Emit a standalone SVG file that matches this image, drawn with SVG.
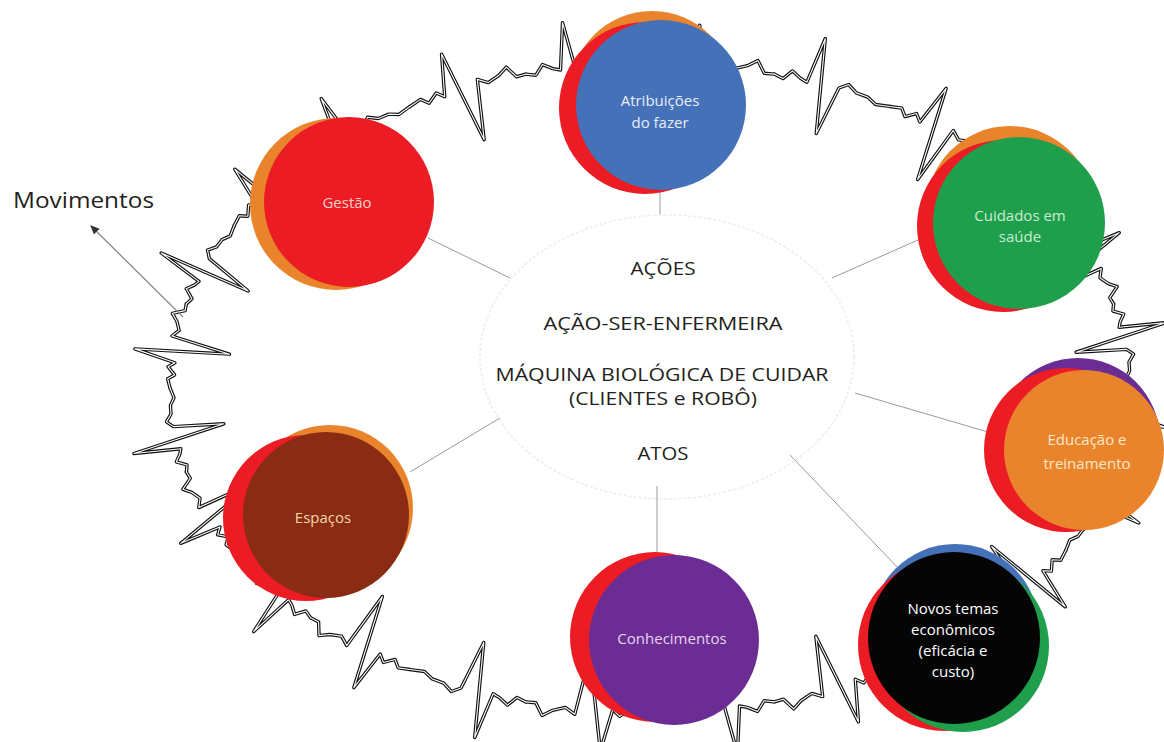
<svg xmlns="http://www.w3.org/2000/svg" xmlns:xlink="http://www.w3.org/1999/xlink" width="1164" height="742" viewBox="0 0 1164 742">
<style>
.lbl{font-family:"Open Sans","Liberation Sans",sans-serif;font-size:15px;text-anchor:middle}
.ctr{font-family:"Open Sans","Liberation Sans",sans-serif;font-size:19px;fill:#231f20;text-anchor:middle}
.con{stroke:#9a9a9a;stroke-width:1;fill:none}
.outer{stroke:#111;stroke-width:3.4;fill:none;stroke-linejoin:round;stroke-linecap:round}
.inner{stroke:#fff;stroke-width:1.1;fill:none;stroke-linejoin:round;stroke-linecap:round}
.red{fill:#ec1c24}.org{fill:#e9842c}.blu{fill:#4571b9}.grn{fill:#1f9f4b}.pur{fill:#6b2d93}.brn{fill:#8a2b14}.blk{fill:#050505}
</style>
<defs>
<path id="bA" vector-effect="non-scaling-stroke" d="M0,0 L10,-4 L16,2 L24,-6 L30,0 L37,-42 L52,52 L60,-8 L68,-2 L78,-6 L86,-12 L92,0 L100,0"/>
<path id="bB" vector-effect="non-scaling-stroke" d="M0,0 L8,2 L14,-8 L22,-3 L28,-1 L33,-48 L47,46 L55,-4 L62,-10 L70,-4 L80,-3 L88,2 L100,0"/>
<g id="trace">
<use xlink:href="#bA" transform="translate(1130,388) rotate(101) scale(0.857,1)"/>
<use xlink:href="#bB" transform="translate(1113.6,472.1) rotate(121.4) scale(0.919,1)"/>
<use xlink:href="#bA" transform="translate(1065.7,550.5) rotate(138.6) scale(1.017,1)"/>
<use xlink:href="#bB" transform="translate(989.4,617.8) rotate(152.5) scale(1.12,1)"/>
<use xlink:href="#bA" transform="translate(890,669.5) rotate(164.4) scale(1.202,1)"/>
<use xlink:href="#bB" transform="translate(774.2,701.9) rotate(174.9) scale(1.247,1)"/>
<use xlink:href="#bA" transform="translate(650,713) rotate(185.1) scale(1.247,1)"/>
<use xlink:href="#bB" transform="translate(525.8,701.9) rotate(195.6) scale(1.202,1)"/>
<use xlink:href="#bA" transform="translate(410,669.5) rotate(207.5) scale(1.12,1)"/>
<use xlink:href="#bB" transform="translate(310.6,617.8) rotate(221.4) scale(1.017,1)"/>
<use xlink:href="#bA" transform="translate(234.3,550.5) rotate(238.6) scale(0.919,1)"/>
<use xlink:href="#bB" transform="translate(186.4,472.1) rotate(259) scale(0.857,1)"/>
<use xlink:href="#bA" transform="translate(170,388) rotate(281) scale(0.857,1)"/>
<use xlink:href="#bB" transform="translate(186.4,303.9) rotate(301.4) scale(0.919,1)"/>
<use xlink:href="#bA" transform="translate(234.3,225.5) rotate(318.6) scale(1.017,1)"/>
<use xlink:href="#bB" transform="translate(310.6,158.2) rotate(332.5) scale(1.12,1)"/>
<use xlink:href="#bA" transform="translate(410,106.5) rotate(344.4) scale(1.202,1)"/>
<use xlink:href="#bB" transform="translate(525.8,74.1) rotate(354.9) scale(1.247,1)"/>
<use xlink:href="#bA" transform="translate(650,63) rotate(5.1) scale(1.247,1)"/>
<use xlink:href="#bB" transform="translate(774.2,74.1) rotate(15.6) scale(1.202,1)"/>
<use xlink:href="#bA" transform="translate(890,106.5) rotate(27.5) scale(1.12,1)"/>
<use xlink:href="#bB" transform="translate(989.4,158.2) rotate(41.4) scale(1.017,1)"/>
<use xlink:href="#bA" transform="translate(1065.7,225.5) rotate(58.6) scale(0.919,1)"/>
<use xlink:href="#bB" transform="translate(1113.6,303.9) rotate(79) scale(0.857,1)"/>
</g>
<marker id="arr" markerWidth="10" markerHeight="8" refX="8" refY="4" orient="auto" markerUnits="userSpaceOnUse">
<path d="M0,0 L9,4 L0,8 Z" fill="#333"/>
</marker>
</defs>
<rect width="1164" height="742" fill="#fff"/>
<g id="ecg">
<use xlink:href="#trace" class="outer"/>
<use xlink:href="#trace" class="inner"/>
</g>
<g id="center">
<ellipse cx="667" cy="357" rx="187" ry="142" fill="#fff" stroke="#ececec" stroke-width="1.5" stroke-dasharray="3,2"/>
<text class="ctr" x="663" y="275" textLength="65" lengthAdjust="spacingAndGlyphs">AÇÕES</text>
<text class="ctr" x="663" y="330" textLength="239" lengthAdjust="spacingAndGlyphs">AÇÃO-SER-ENFERMEIRA</text>
<text class="ctr" x="662" y="381" textLength="333" lengthAdjust="spacingAndGlyphs">MÁQUINA BIOLÓGICA DE CUIDAR</text>
<text class="ctr" x="663" y="405" textLength="188" lengthAdjust="spacingAndGlyphs">(CLIENTES e ROBÔ)</text>
<text class="ctr" x="663" y="460" textLength="51" lengthAdjust="spacingAndGlyphs">ATOS</text>
</g>
<g id="connectors">
<line class="con" x1="510" y1="278" x2="428" y2="238"/>
<line class="con" x1="660" y1="214" x2="660" y2="188"/>
<line class="con" x1="832" y1="278" x2="918" y2="240"/>
<line class="con" x1="855" y1="393" x2="988" y2="432"/>
<line class="con" x1="790" y1="455" x2="900" y2="570"/>
<line class="con" x1="657" y1="486" x2="657" y2="578"/>
<line class="con" x1="500" y1="418" x2="410" y2="472"/>
<line x1="183" y1="317" x2="91" y2="226" stroke="#8a8a8a" stroke-width="1.3" marker-end="url(#arr)"/>
</g>
<g id="movimentos">
<text x="13" y="208" font-family="'Open Sans','Liberation Sans',sans-serif" font-size="22" fill="#231f20" textLength="141" lengthAdjust="spacingAndGlyphs">Movimentos</text>
</g>
<g id="atribuicoes">
<circle class="org" cx="652" cy="93" r="82"/>
<circle class="red" cx="645" cy="108" r="86"/>
<circle class="blu" cx="661" cy="105" r="85"/>
<text class="lbl" fill="#e8eefa" x="660" y="106">Atribuições</text>
<text class="lbl" fill="#e8eefa" x="660" y="128">do fazer</text>
</g>
<g id="gestao">
<circle class="org" cx="336" cy="204" r="86"/>
<circle class="red" cx="349" cy="202" r="85"/>
<text class="lbl" fill="#fbd0c8" x="347" y="208">Gestão</text>
</g>
<g id="cuidados">
<circle class="org" cx="1010" cy="210" r="84"/>
<circle class="red" cx="1003" cy="226" r="86"/>
<circle class="grn" cx="1019" cy="223" r="86"/>
<text class="lbl" fill="#c9ecd2" x="1020" y="221">Cuidados em</text>
<text class="lbl" fill="#c9ecd2" x="1020" y="242">saúde</text>
</g>
<g id="educacao">
<circle class="pur" cx="1078" cy="440" r="82"/>
<circle class="red" cx="1066" cy="450" r="82"/>
<circle class="org" cx="1084" cy="450" r="80"/>
<text class="lbl" fill="#fde7c9" x="1087" y="445">Educação e</text>
<text class="lbl" fill="#fde7c9" x="1087" y="469">treinamento</text>
</g>
<g id="novos">
<circle class="blu" cx="955" cy="628" r="84"/>
<circle class="red" cx="944" cy="645" r="86"/>
<circle class="grn" cx="963" cy="646" r="86"/>
<circle class="blk" cx="954" cy="638" r="86"/>
<text class="lbl" fill="#fff" x="953" y="614">Novos temas</text>
<text class="lbl" fill="#fff" x="953" y="635">econômicos</text>
<text class="lbl" fill="#fff" x="953" y="656">(eficácia e</text>
<text class="lbl" fill="#fff" x="953" y="677">custo)</text>
</g>
<g id="conhecimentos">
<circle class="red" cx="655" cy="637" r="85"/>
<circle class="pur" cx="674" cy="640" r="85"/>
<text class="lbl" fill="#e6d3f0" x="672" y="644">Conhecimentos</text>
</g>
<g id="espacos">
<circle class="org" cx="330" cy="508" r="83"/>
<circle class="red" cx="306" cy="518" r="83"/>
<circle class="brn" cx="326" cy="515" r="83"/>
<text class="lbl" fill="#f6d6a6" x="323" y="523">Espaços</text>
</g>
</svg>
